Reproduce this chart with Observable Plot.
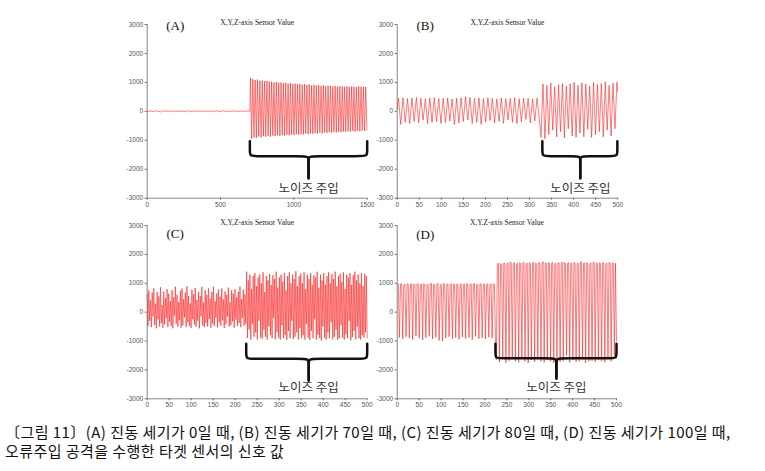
<!DOCTYPE html>
<html><head><meta charset="utf-8">
<script src="https://cdn.jsdelivr.net/npm/d3@7"></script>
<script src="https://cdn.jsdelivr.net/npm/@observablehq/plot@0.6"></script>
<style>
body{margin:0;background:#fff;}
#wrap{position:relative;width:765px;height:471px;overflow:hidden;background:#fff;}
.panel{position:absolute;}
.cap{position:absolute;left:5px;font-family:"Noto Sans CJK KR";font-size:15px;letter-spacing:0.45px;line-height:18px;color:#111;white-space:nowrap;}
</style></head><body><div id="wrap"></div>
<script>
// ---------------- data ----------------
const panelLabels = ["(A)", "(B)", "(C)", "(D)"];
const panelTitle = "X,Y,Z-axis Sensor Value";
const noiseLabel = "노이즈 주입";
const yTicks = [-3000, -2000, -1000, 0, 1000, 2000, 3000];
const xTicksA = [0, 500, 1000, 1500];
const xTicksBCD = [0, 50, 100, 150, 200, 250, 300, 350, 400, 450, 500];
const captionLines = [
  "〔그림 11〕(A) 진동 세기가 0일 때, (B) 진동 세기가 70일 때, (C) 진동 세기가 80일 때, (D) 진동 세기가 100일 때,",
  "오류주입 공격을 수행한 타겟 센서의 신호 값"
];

// (A) before noise: 0..700, after noise: 700..1500 (peaks/troughs)
const aQuiet = [15, -5, 20, 0, -15, 10, 25, -5, 10, -20, 15, 5, 25, -10, 15, 0, -15, 20, 10, -5, 25, -15, 10, 5, -5, 15, -10, 10, 20, -15, 5, 15, -5, 10, 0, 20, -10, 15, 5, -10, 20, 0, 10, -15, 15, 5, -5, 20, 10, 0, -10, 15, 25, -5, 10, 0, 15, -10, 20, 5, 10, -5, 15, 0, 20, 10, -10, 15, 5, 10, 0];
const aPeaks = [1150, 1120, 1080, 1100, 1060, 1070, 1040, 1050, 1020, 1030, 1000, 1020, 990, 1000, 970, 990, 960, 980, 950, 960, 940, 950, 920, 940, 910, 930, 900, 920, 890, 910, 880, 900, 870, 890, 880, 860, 880, 850, 870, 860, 850, 870, 840, 860, 850, 840, 860, 850, 840, 850];
const aTroughs = [-950, -900, -920, -870, -900, -860, -880, -850, -870, -840, -860, -830, -850, -820, -840, -810, -830, -800, -820, -790, -810, -780, -800, -770, -790, -760, -780, -750, -770, -740, -760, -730, -750, -720, -740, -710, -730, -700, -720, -700, -710, -690, -700, -680, -700, -670, -690, -660, -680, -650];

// (B)
const bPeaks1 = [450, 470, 440, 460, 480, 450, 430, 460, 470, 440, 450, 460, 430, 450, 470, 500, 480, 450, 460, 440, 470, 450, 430, 460, 440, 450, 470, 440, 460, 450, 430, 460];
const bTroughs1 = [-450, -380, -420, -350, -400, -300, -430, -380, -350, -420, -390, -330, -460, -400, -350, -300, -420, -380, -450, -370, -320, -400, -350, -410, -300, -380, -420, -360, -280, -400, -330, -250];
const bPeaks2 = [950, 900, 980, 850, 920, 960, 880, 950, 1000, 900, 980, 950, 870, 1000, 930, 960, 1020, 900, 970, 1000];
const bTroughs2 = [-900, -950, -800, -650, -880, -700, -920, -600, -850, -900, -750, -880, -620, -900, -800, -700, -880, -650, -850, -600];

// (C)
const cVals1 = [620, -480, 750, -300, 410, -520, 680, -150, 820, -450, 300, -560, 700, -250, 550, -500, 860, -380, 250, -540, 720, -420, 480, -200, 800, -520, 640, -330, 380, -480, 760, -560, 520, -120, 880, -400, 600, -500, 350, -280, 740, -540, 820, -460, 450, -180, 680, -520, 900, -350, 560, -480, 300, -550, 780, -250, 620, -430, 840, -510, 420, -300, 700, -560, 560, -150, 880, -470, 330, -520, 760, -380, 600, -500, 820, -240, 470, -540, 700, -410, 880, -480, 380, -200, 650, -530, 780, -350, 540, -470, 820, -280, 440, -550, 720, -420, 600, -160, 850, -500, 350, -460, 760, -320, 640, -540, 800, -260, 520, -480, 700, -380, 880, -520, 450, -200, 780, -470, 620, -400];
const cVals2 = [1400, -900, 1100, -600, 1300, -950, 800, -400, 1250, -850, 1350, -700, 900, -950, 1200, -300, 1300, -880, 1000, -920, 1380, -600, 700, -850, 1250, -950, 1100, -500, 1320, -800, 950, -900, 1280, -200, 1150, -940, 1400, -700, 850, -880, 1200, -950, 1300, -450, 1050, -900, 1350, -800, 750, -960, 1250, -650, 1380, -900, 1000, -300, 1300, -930, 1150, -850, 1420, -700, 900, -950, 1250, -550, 1330, -900, 1000, -800, 1380, -950, 800, -400, 1300, -880, 1150, -960, 1350, -650, 950, -900, 1280, -250, 1200, -950, 1400, -780, 850, -900, 1300, -980, 1100, -500, 1350, -880, 950, -950, 1250, -700, 1380, -900, 1000, -350, 1320, -940, 1150, -850, 1400, -600, 900, -960, 1250, -900, 1330, -450, 1050, -880, 1380, -950, 800, -750, 1300, -900, 1200, -300, 1350, -980, 950, -860, 1280, -650, 1400, -940, 1100, -500, 1300, -900, 1000, -950, 1350, -800, 900, -880, 1330, -700, 1250, -900];

// (D)
const dVals1 = [950, 980, -880, 960, 990, -920, 940, 970, -850, 980, 960, -900, 950, 990, -950, 970, 950, -820, 960, 990, -900, 940, 980, -960, 990, 960, -880, 950, 970, -840, 980, 1000, -930, 960, 950, -870, 970, 990, -980, 950, 960, -1000, 990, 970, -900, 960, 980, -850, 950, 990, -920, 970, 960, -880, 980, 950, -940, 960, 990, -860, 950, 970, -910, 990, 960, -880, 960, 980, -950, 970, 990, -840, 950, 960, -920, 980, 970, -890, 960, 990, -930, 950, 980, -870, 970, 960, -900, 990, 950, -920];
const dVals2 = [-1650, 1650, 1700, -1720, 1680, 1660, -1600, 1700, 1690, -1750, 1660, 1710, -1680, 1740, 1690, -1550, 1680, 1720, -1700, 1660, 1700, -1740, 1720, 1680, -1620, 1690, 1730, -1700, 1670, 1700, -1760, 1710, 1690, -1650, 1680, 1740, -1720, 1700, 1670, -1580, 1720, 1700, -1700, 1680, 1750, -1740, 1690, 1710, -1660, 1720, 1680, -1700, 1700, 1730, -1750, 1670, 1690, -1620, 1710, 1700, -1720, 1680, 1740, -1690, 1720, 1670, -1500, 1690, 1710, -1740, 1700, 1680, -1660, 1730, 1700, -1720, 1680, 1690, -1700, 1710, 1750, -1640, 1690, 1700, -1760, 1720, 1680, -1700, 1670, 1710, -1680, 1700, 1740, -1720, 1690, 1700, -1650, 1710, 1680, -1700, 1730, 1700, -1740, 1680, 1690, -1600, 1720, 1700, -1700, 1680, 1710, -1500, 1690, -1000];

// brace annotations (data units): start, end, centre, top, middle, tip, label
const braceStartX = [700, 329, 225, 224];
const braceEndX = [1500, 499, 500, 500];
const braceCenterX = [1100, 415, 367, 363];
const braceTopY = [-1030, -1030, -1095, -1095];
const braceMidY = [-1550, -1550, -1615, -1600];
const braceTipY = [-2310, -2310, -2365, -2300];
const braceLabelY = [-2690, -2690, -2640, -2620];

// ---------------- helpers ----------------
function spread(vals, x0, x1) {
  const n = vals.length;
  return vals.map((v, i) => ({x: x0 + (n > 1 ? i * (x1 - x0) / (n - 1) : 0), y: v}));
}
function interleave(p, t) {
  const out = [];
  for (let i = 0; i < Math.max(p.length, t.length); i++) {
    if (i < p.length) out.push(p[i]);
    if (i < t.length) out.push(t[i]);
  }
  return out;
}

const seriesA = [...spread(aQuiet, 0, 700), ...spread(interleave(aPeaks, aTroughs), 704, 1498)];
const seriesB = [{x: 0, y: 80}, ...spread(interleave(bPeaks1, bTroughs1), 3, 322), ...spread(interleave(bTroughs2, bPeaks2), 326, 498), {x: 500, y: 700}];
const seriesC = [...spread(cVals1, 0, 224), ...spread(cVals2, 226, 500)];
const seriesD = [...spread(dVals1, 0, 224), ...spread(dVals2, 226, 500)];

const panels = [
  {data: seriesA, xd: [0, 1500], xt: xTicksA, left: 100, top: 0, mt: 24, mb: 17.3, ml: 46.7, mr: 13.3, ldy: -4, tdy: -5},
  {data: seriesB, xd: [0, 500], xt: xTicksBCD, left: 350, top: 0, mt: 24, mb: 17.3, ml: 46.7, mr: 12.7, ldy: -4, tdy: -5},
  {data: seriesC, xd: [0, 500], xt: xTicksBCD, left: 100, top: 205, mt: 20, mb: 21.7, ml: 46.7, mr: 13.3, ldy: 3, tdy: -6},
  {data: seriesD, xd: [0, 500], xt: xTicksBCD, left: 350, top: 205, mt: 20, mb: 21.7, ml: 46.7, mr: 14, ldy: 4, tdy: -6}
];

const wrap = document.getElementById("wrap");
const W = 280, H = 215;

panels.forEach((p, i) => {
  const innerW = W - p.ml - p.mr, innerH = H - p.mt - p.mb;
  const dx = 6 * (p.xd[1] - p.xd[0]) / innerW;
  const dy = 6 * 6000 / innerH;
  const x0 = braceStartX[i], x1 = braceEndX[i], xc = braceCenterX[i];
  const yT = braceTopY[i], yM = braceMidY[i], yP = braceTipY[i];
  const leftHalf = [[x0, yT], [x0, yM + dy], [x0, yM], [x0 + dx, yM], [xc - dx, yM], [xc, yM], [xc, yM - dy], [xc, yP]];
  const rightHalf = [[x1, yT], [x1, yM + dy], [x1, yM], [x1 - dx, yM], [xc + dx, yM], [xc, yM], [xc, yM - dy], [xc, yP]];

  const chart = Plot.plot({
    width: W, height: H,
    marginTop: p.mt, marginBottom: p.mb, marginLeft: p.ml, marginRight: p.mr,
    style: {background: "transparent", overflow: "visible", fontFamily: "Liberation Sans", fontSize: "6.5px", color: "#555"},
    x: {domain: p.xd},
    y: {domain: [-3000, 3000]},
    marks: [
      Plot.line(p.data, {x: "x", y: "y", stroke: "#ff2020", strokeWidth: 0.6}),
      Plot.ruleX([p.xd[0]], {stroke: "#666", strokeWidth: 0.8}),
      Plot.ruleY([-3000], {stroke: "#666", strokeWidth: 0.8}),
      Plot.axisY({ticks: yTicks, tickSize: 2, tickPadding: 2, tickFormat: d => String(d), label: null, stroke: "#666"}),
      Plot.axisX({ticks: p.xt, tickSize: 2, tickPadding: 2, tickFormat: d => String(d), label: null, stroke: "#666"}),
      Plot.line(leftHalf, {x: d => d[0], y: d => d[1], curve: "basis", stroke: "#111", strokeWidth: 2.5}),
      Plot.line(rightHalf, {x: d => d[0], y: d => d[1], curve: "basis", stroke: "#111", strokeWidth: 2.5}),
      Plot.text([noiseLabel], {x: xc, y: braceLabelY[i], text: d => d, fontFamily: "Noto Sans CJK KR", fontSize: 12.5, fill: "#333", style: "letter-spacing:0.5px"}),
      Plot.text([panelTitle], {frameAnchor: "top", dy: p.tdy, text: d => d, fontFamily: "Liberation Serif", fontSize: 7.5, fill: "#222"}),
      Plot.text([panelLabels[i]], {frameAnchor: "top-left", dx: 28, dy: p.ldy, text: d => d, textAnchor: "middle", fontFamily: "Liberation Serif", fontSize: 13, fill: "#111"})
    ]
  });
  chart.classList.add("panel");
  chart.style.left = p.left + "px";
  chart.style.top = p.top + "px";
  chart.style.position = "absolute";
  wrap.appendChild(chart);
});

captionLines.forEach((t, i) => {
  const d = document.createElement("div");
  d.className = "cap";
  d.style.top = (423 + i * 19) + "px";
  d.textContent = t;
  wrap.appendChild(d);
});
</script></body></html>
